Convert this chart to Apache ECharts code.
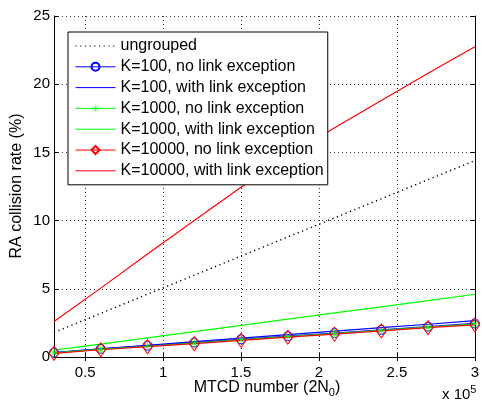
<!DOCTYPE html>
<html><head><meta charset="utf-8">
<script src="https://cdn.jsdelivr.net/npm/echarts@6/dist/echarts.min.js"></script>
<style>html,body{margin:0;padding:0;background:#fff}#c{width:482px;height:403px}</style>
</head><body><div id="c"></div>
<script>
// x in units of 1e5 MTCDs
const xValues = [0.3, 0.6, 0.9, 1.2, 1.5, 1.8, 2.1, 2.4, 2.7, 3.0];
const ungrouped     = [1.8, 3.2, 4.6, 6.0, 7.4, 8.8, 10.2, 11.6, 13.0, 14.4];
const k100NoLink    = [0.33, 0.60, 0.83, 1.06, 1.30, 1.53, 1.76, 1.99, 2.23, 2.46];
const k100Link      = [0.33, 0.60, 0.86, 1.12, 1.38, 1.64, 1.89, 2.15, 2.40, 2.66];
const k1000NoLink   = [0.30, 0.56, 0.79, 1.02, 1.26, 1.49, 1.72, 1.95, 2.19, 2.42];
const k1000Link     = [0.50, 0.95, 1.40, 1.86, 2.32, 2.77, 3.23, 3.68, 4.14, 4.60];
const k10000NoLink  = [0.27, 0.53, 0.76, 0.98, 1.22, 1.45, 1.68, 1.91, 2.15, 2.36];
const k10000Link    = [2.6, 5.05, 7.55, 10.0, 12.45, 14.7, 16.8, 18.8, 20.8, 22.75];
const seriesNames = ['ungrouped','K=100, no link exception','K=100, with link exception','K=1000, no link exception','K=1000, with link exception','K=10000, no link exception','K=10000, with link exception'];
const xTicks = [0.5, 1, 1.5, 2, 2.5, 3];
const yTicks = [0, 5, 10, 15, 20, 25];

const pair = a => a.map((v, i) => [xValues[i], v]);
const FONT = 'Liberation Sans, Arial, sans-serif';
const EMPTY = 'path://M0,0L0.001,0L0,0.001Z';
const asterisk = 'path://M-0.6,-10 L0.6,-10 L0.6,10 L-0.6,10 Z M-10,-0.6 L10,-0.6 L10,0.6 L-10,0.6 Z M-7.5,-6.6 L-6.6,-7.5 L7.5,6.6 L6.6,7.5 Z M7.5,-6.6 L6.6,-7.5 L-7.5,6.6 L-6.6,7.5 Z';

function mk(name, data, color, opts) {
  return Object.assign({
    name, type: 'line', data: pair(data), animation: false,
    lineStyle: { color, width: 1.2 },
    itemStyle: { color: 'rgba(0,0,0,0)' },
    symbol: EMPTY, showSymbol: false
  }, opts || {});
}
const series = [
  mk(seriesNames[0], ungrouped, '#000', { lineStyle: { color: '#000', width: 1.5, type: [1.2, 3.5] } }),
  mk(seriesNames[1], k100NoLink, '#0000ff', { symbol: 'circle', showSymbol: true, symbolSize: 9,
     itemStyle: { color: 'rgba(0,0,0,0)', borderColor: '#0000ff', borderWidth: 1 } }),
  mk(seriesNames[2], k100Link, '#0000ff'),
  mk(seriesNames[3], k1000NoLink, '#00ff00', { symbol: asterisk, showSymbol: true, symbolSize: 9,
     itemStyle: { color: '#00ff00' } }),
  mk(seriesNames[4], k1000Link, '#00ff00'),
  mk(seriesNames[5], k10000NoLink, '#ff0000', { symbol: 'diamond', showSymbol: true, symbolSize: [10, 14],
     itemStyle: { color: 'rgba(0,0,0,0)', borderColor: '#ff0000', borderWidth: 1 } }),
  mk(seriesNames[6], k10000Link, '#ff0000')
];

const axisLine = { show: true, lineStyle: { color: '#000', width: 1 } };
const grid = { show: true, lineStyle: { color: '#333', type: [1, 3], width: 1 } };
const chart = echarts.init(document.getElementById('c'), null, { renderer: 'canvas' });
chart.setOption({
  backgroundColor: '#fff',
  animation: false,
  textStyle: { fontFamily: FONT },
  grid: { left: 54, right: 2, top: 16, bottom: 46, containLabel: false },
  xAxis: [
    { type: 'value', min: 0.3, max: 3, position: 'bottom', axisLine,
      axisTick: { show: true, inside: true, length: 4, customValues: xTicks, lineStyle: { color: '#000' } },
      axisLabel: { show: true, customValues: xTicks, color: '#000', fontSize: 15, fontFamily: FONT, margin: 8 },
      splitLine: grid },
    { type: 'value', min: 0.3, max: 3, position: 'top', axisLine,
      axisTick: { show: true, inside: true, length: 4, customValues: xTicks, lineStyle: { color: '#000' } },
      axisLabel: { show: false }, splitLine: { show: false } }
  ],
  yAxis: [
    { type: 'value', min: 0, max: 25, interval: 5, position: 'left', axisLine,
      axisTick: { show: true, inside: true, length: 4, lineStyle: { color: '#000' } },
      axisLabel: { color: '#000', fontSize: 15, fontFamily: FONT, margin: 4 },
      splitLine: grid },
    { type: 'value', min: 0, max: 25, interval: 5, position: 'right', axisLine,
      axisTick: { show: true, inside: true, length: 4, lineStyle: { color: '#000' } },
      axisLabel: { show: false }, splitLine: { show: false } }
  ],
  legend: {
    data: seriesNames,
    orient: 'vertical', left: 68, top: 32,
    itemWidth: 40, itemHeight: 10, itemGap: 4.8,
    padding: [6, 4, 6, 7],
    lineStyle: { width: 1 },
    backgroundColor: '#fff', borderColor: '#000', borderWidth: 1, borderRadius: 0,
    textStyle: { color: '#000', fontSize: 16, fontFamily: FONT },
    selectedMode: false
  },
  graphic: [
    { type: 'text', rotation: Math.PI / 2, x: 17, y: 186,
      style: { text: 'RA collision rate (%)', font: '16px ' + FONT, fill: '#000', textAlign: 'center', textVerticalAlign: 'middle' } },
    { type: 'text', x: 267, y: 388,
      style: { text: '{a|MTCD number (2N}{s|0}{a|)}', fill: '#000', textAlign: 'center', textVerticalAlign: 'middle',
        rich: { a: { font: '16px ' + FONT, fill: '#000' }, s: { font: '11px ' + FONT, fill: '#000', padding: [10, 0, 0, 0] } } } },
    { type: 'text', x: 442, y: 395,
      style: { text: '{a|x 10}{s|5}', fill: '#000', textAlign: 'left', textVerticalAlign: 'middle',
        rich: { a: { font: '15px ' + FONT, fill: '#000' }, s: { font: '11px ' + FONT, fill: '#000', padding: [0, 0, 10, 0] } } } }
  ],
  series
});
</script></body></html>
